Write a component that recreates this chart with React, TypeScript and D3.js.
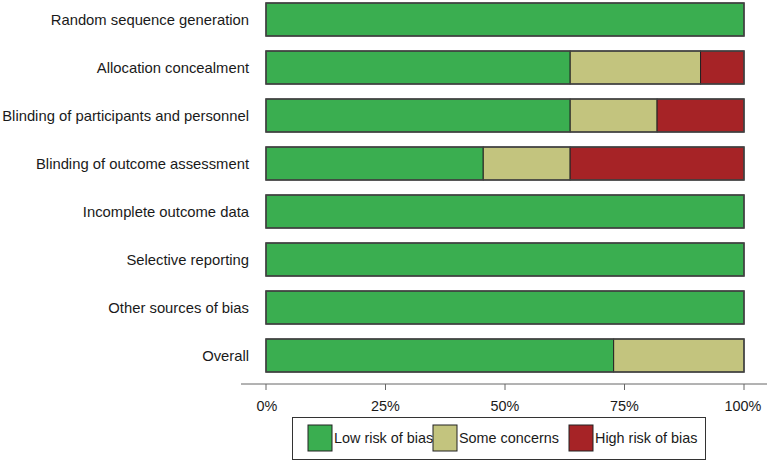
import React from "react";
import * as d3 from "d3";

const domains = [
  "Random sequence generation",
  "Allocation concealment",
  "Blinding of participants and personnel",
  "Blinding of outcome assessment",
  "Incomplete outcome data",
  "Selective reporting",
  "Other sources of bias",
  "Overall",
];
const lowRisk = [100, 63.64, 63.64, 45.45, 100, 100, 100, 72.73];
const someConcerns = [0, 27.27, 18.18, 18.18, 0, 0, 0, 27.27];
const highRisk = [0, 9.09, 18.18, 36.36, 0, 0, 0, 0];
const tickValues = [0, 25, 50, 75, 100];
const legendLabels = ["Low risk of bias", "Some concerns", "High risk of bias"];
const colors = ["#3AAE50", "#C3C47E", "#A62326"];

export default function App() {
  const W = 778, H = 461;
  const x = d3.scaleLinear().domain([0, 100]).range([266, 744]);
  const y = d3.scaleBand().domain(domains).range([-4.5, 379.5]).paddingInner(0.3125).paddingOuter(0.15625);
  const series = [lowRisk, someConcerns, highRisk];
  const font = "'Liberation Sans', Arial, Helvetica, sans-serif";
  const legendX = [308, 433, 569];
  return (
    <svg width={W} height={H} style={{ position: "absolute", left: 0, top: 0 }} fontFamily={font}>
      {domains.map((d, i) => {
        let acc = 0;
        const y0 = y(d)!;
        return (
          <g key={d}>
            <text x={249} y={y0 + y.bandwidth() / 2} textAnchor="end" dominantBaseline="central" fontSize={14.8} fill="#1a1a1a">{d}</text>
            {series.map((s, k) => {
              const v = s[i];
              const start = acc;
              acc += v;
              if (v <= 0) return null;
              return (
                <rect key={k} x={x(start)} y={y0} width={x(start + v) - x(start)} height={y.bandwidth()}
                  fill={colors[k]} stroke="#222" strokeWidth={1} />
              );
            })}
            <rect x={x(0)} y={y0} width={x(100) - x(0)} height={y.bandwidth()} fill="none" stroke="#444" strokeWidth={1.5} />
          </g>
        );
      })}
      <line x1={241} x2={767} y1={384} y2={384} stroke="#666" strokeWidth={1} />
      {tickValues.map((t) => (
        <g key={t}>
          <line x1={x(t)} x2={x(t)} y1={384} y2={390} stroke="#666" />
          <text x={x(t) + (t === 0 ? 1 : t === 100 ? -1 : 0)} y={406} textAnchor="middle" dominantBaseline="central" fontSize={14.4} fill="#1a1a1a">{t}%</text>
        </g>
      ))}
      <rect x={292.5} y={417.5} width={413} height={42} fill="#fff" stroke="#333" strokeWidth={1} />
      {legendLabels.map((l, k) => (
        <g key={l}>
          <rect x={legendX[k]} y={425} width={24} height={26} fill={colors[k]} stroke="#222" strokeWidth={1} />
          <text x={legendX[k] + 26} y={438} dominantBaseline="central" fontSize={14.4} fill="#1a1a1a">{l}</text>
        </g>
      ))}
    </svg>
  );
}
